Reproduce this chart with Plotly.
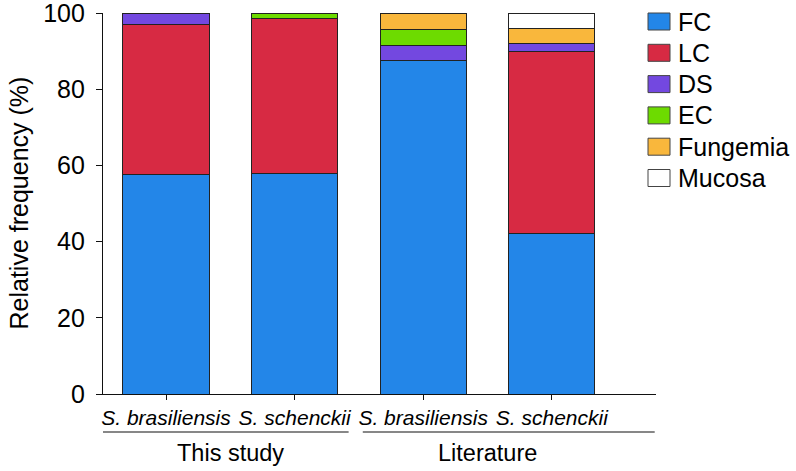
import plotly.graph_objects as go

categories = ["S. brasiliensis", "S. schenckii", "S. brasiliensis", "S. schenckii"]
groups = ["This study", "Literature"]
series_names = ["FC", "LC", "DS", "EC", "Fungemia", "Mucosa"]
FC = [57.5, 58.0, 87.5, 42.0]
LC = [39.4, 40.5, 0.0, 48.0]
DS = [3.1, 0.0, 4.1, 2.0]
EC = [0.0, 1.5, 4.2, 0.0]
Fungemia = [0.0, 0.0, 4.2, 3.9]
Mucosa = [0.0, 0.0, 0.0, 4.1]
colors = ["#2386e8", "#d72a43", "#7348e0", "#6ddb00", "#f9b73c", "#ffffff"]

values = [FC, LC, DS, EC, Fungemia, Mucosa]
FONT = "Liberation Sans, Arial, sans-serif"
xs = list(range(len(categories)))

fig = go.Figure()
for name, vals, col in zip(series_names, values, colors):
    fig.add_trace(go.Bar(
        x=xs, y=vals, name=name, width=0.67,
        marker=dict(color=col, line=dict(color="#222222", width=1)),
        showlegend=False,
    ))

W, H = 796, 471
L, R, T, B = 103, 140, 13, 77
pw, ph = W - L - R, H - T - B

def px_to_paper(xp, yp):
    return (xp - L) / pw, (H - B - yp) / ph

shapes = []
annotations = []
# manual legend
for i, (name, col) in enumerate(zip(series_names, colors)):
    yc = 21.5 + i * 31.3
    x0, y0 = px_to_paper(648, yc - 8.5)
    x1, y1 = px_to_paper(670, yc + 8.5)
    shapes.append(dict(type="rect", xref="paper", yref="paper", x0=x0, x1=x1, y0=y0, y1=y1,
                       fillcolor=col, line=dict(color="#444444", width=1)))
    tx, ty = px_to_paper(676, yc)
    annotations.append(dict(xref="paper", yref="paper", x=tx, y=ty, text=name, showarrow=False,
                            xanchor="left", yanchor="middle", font=dict(family=FONT, size=25, color="#000")))

# group underlines and labels
uy = -(432 - (H - B)) / ph
for (a, b), g, c in zip([(-0.544, 1.42), (1.53, 3.80)], groups, [0.5, 2.5]):
    shapes.append(dict(type="line", xref="x", yref="paper", x0=a, x1=b, y0=uy, y1=uy,
                       line=dict(color="#111111", width=1.2)))
    annotations.append(dict(xref="x", yref="paper", x=c, y=-(453 - (H - B)) / ph, text=g,
                            showarrow=False, xanchor="center", yanchor="middle",
                            font=dict(family=FONT, size=23.5, color="#000")))

# y-axis title as annotation
annotations.append(dict(xref="paper", yref="paper", x=px_to_paper(18, 0)[0], y=0.5,
                        text="Relative frequency (%)", textangle=-90, showarrow=False,
                        xanchor="center", yanchor="middle",
                        font=dict(family=FONT, size=25, color="#000")))

fig.update_layout(
    barmode="stack",
    width=W, height=H,
    margin=dict(l=L, r=R, t=T, b=B, autoexpand=False),
    plot_bgcolor="white", paper_bgcolor="white",
    font=dict(family=FONT, size=21, color="#000"),
    shapes=shapes, annotations=annotations,
    xaxis=dict(range=[-0.49, 3.81], tickvals=xs, automargin=False,
               ticktext=["<i>" + c + "</i>" for c in categories],
               showline=True, linecolor="#111", linewidth=1.2,
               ticks="outside", ticklen=5, tickcolor="#111",
               showgrid=False, zeroline=False, tickfont=dict(family=FONT, size=21)),
    yaxis=dict(range=[0, 100], tickvals=[0, 20, 40, 60, 80, 100], automargin=False,
               showline=True, linecolor="#111", linewidth=1.2,
               ticks="outside", ticklen=6, tickcolor="#111", ticklabelstandoff=6,
               ticklabeloverflow="allow",
               showgrid=False, zeroline=False, tickfont=dict(family=FONT, size=25)),
)
fig.write_html("out.html", config={"displayModeBar": False},
               post_script="document.body.style.margin='0';document.body.style.overflow='hidden';")
